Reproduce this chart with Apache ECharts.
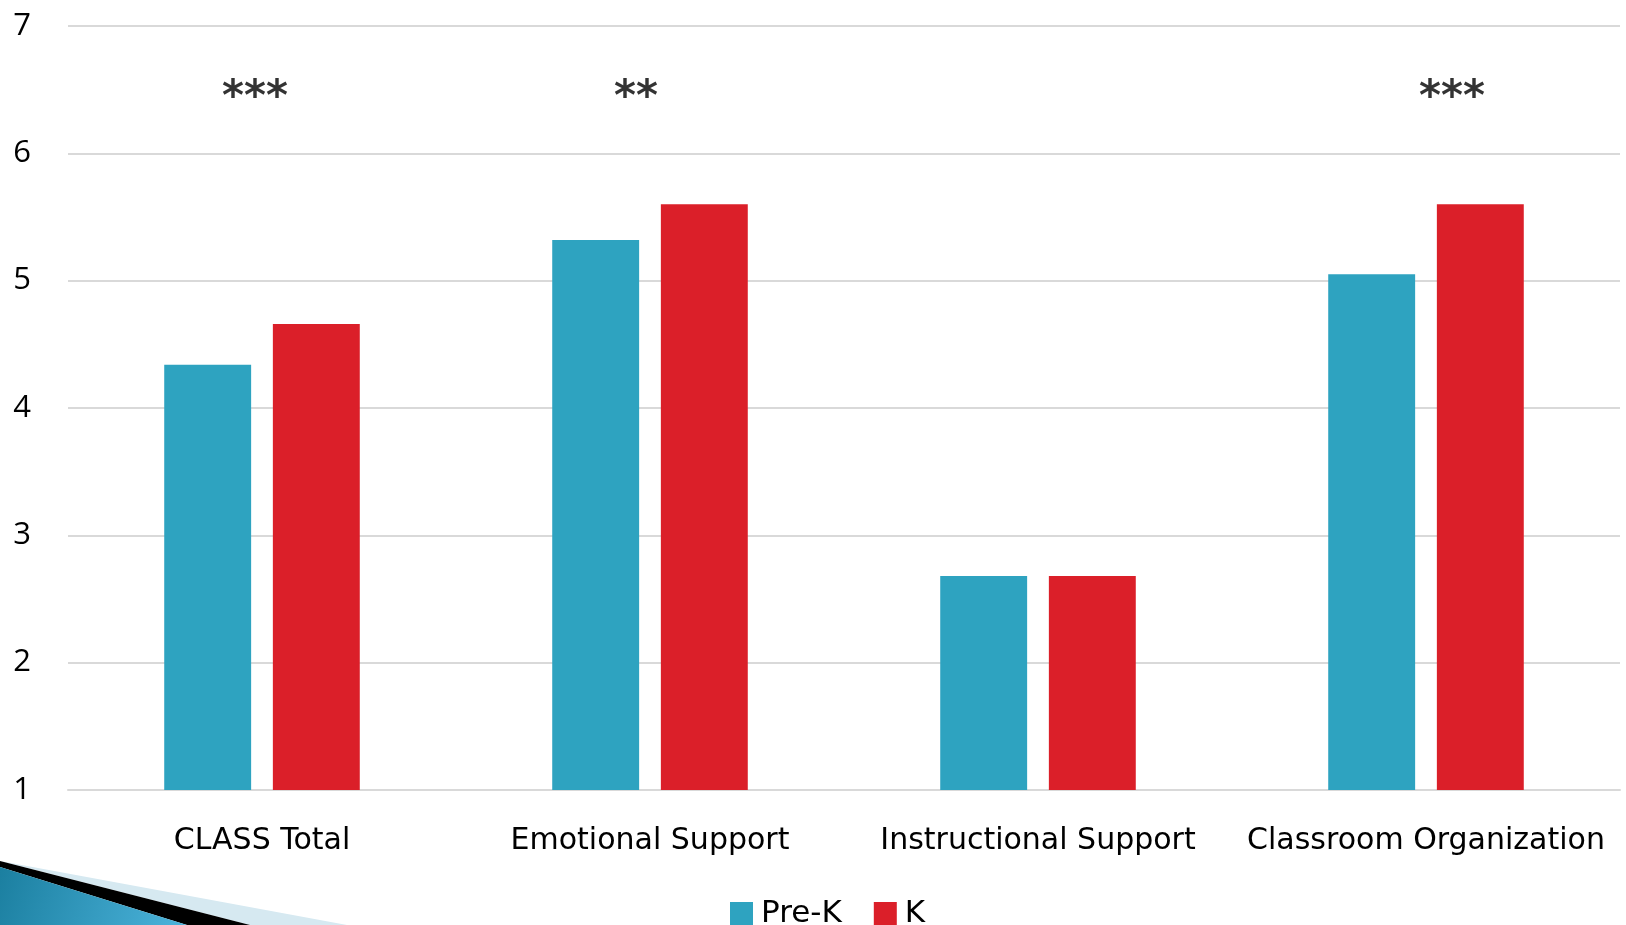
<!DOCTYPE html>
<html>
<head>
<meta charset="utf-8">
<script src="https://cdn.jsdelivr.net/npm/echarts@6/dist/echarts.min.js"></script>
<style>
  html, body { margin: 0; padding: 0; background: #fff; }
  #chart { width: 1626px; height: 925px; }
</style>
</head>
<body>
<div id="chart"></div>
<script>
var categories = ['CLASS Total', 'Emotional Support', 'Instructional Support', 'Classroom Organization'];
var preK = [4.34, 5.32, 2.68, 5.05];
var kinder = [4.66, 5.6, 2.68, 5.6];
var stars = ['***', '**', '', '***'];
var starY = 6.5;
var starShift = [-7, -14, 0, 26];

var chart = echarts.init(document.getElementById('chart'));

var starData = [];
for (var i = 0; i < categories.length; i++) {
    if (stars[i]) {
        starData.push({
            value: [i, starY],
            label: { formatter: stars[i], offset: [starShift[i], 9] }
        });
    }
}

var option = {
    animation: false,
    textStyle: { fontFamily: 'DejaVu Sans', color: '#000' },
    grid: { left: 68, right: 6, top: 26, bottom: 135, containLabel: false },
    legend: {
        left: 725, top: 893,
        itemWidth: 23, itemHeight: 23, itemGap: 32,
        icon: 'rect',
        textStyle: { fontSize: 31, color: '#000', fontFamily: 'DejaVu Sans', padding: [0, 0, 0, 3] },
        data: ['Pre-K', 'K']
    },
    xAxis: {
        type: 'category',
        data: categories,
        axisLine: { lineStyle: { color: '#d9d9d9', width: 2 } },
        axisTick: { show: false },
        axisLabel: { fontSize: 30, color: '#000', margin: 36, interval: 0 }
    },
    yAxis: {
        type: 'value',
        min: 1, max: 7, interval: 1,
        axisLine: { show: false },
        axisTick: { show: false },
        axisLabel: { fontSize: 31, color: '#000', margin: 37, fontFamily: 'Open Sans' },
        splitLine: { lineStyle: { color: '#d9d9d9', width: 2 } }
    },
    series: [
        {
            name: 'Pre-K', type: 'bar', data: preK,
            barWidth: '22.4%', barGap: '25%',
            itemStyle: { color: '#2ea3c0' }
        },
        {
            name: 'K', type: 'bar', data: kinder,
            barWidth: '22.4%', barGap: '25%',
            itemStyle: { color: '#db1f29' }
        },
        {
            name: 'sig', type: 'scatter', data: starData,
            symbolSize: 0, silent: true,
            label: { show: true, position: 'inside', fontSize: 42, fontWeight: 'bold', color: '#000', textBorderWidth: 0 }
        }
    ],
    graphic: [
        { type: 'polygon', shape: { points: [[0, 861], [347, 925], [250, 925]] }, style: { fill: '#d6e9f1' } },
        { type: 'polygon', shape: { points: [[0, 861], [250, 925], [187, 925], [0, 867]] }, style: { fill: '#000' } },
        {
            type: 'polygon', shape: { points: [[0, 867], [187, 925], [0, 925]] },
            style: {
                fill: new echarts.graphic.LinearGradient(0, 0, 1, 1, [
                    { offset: 0, color: '#1b7fa0' },
                    { offset: 1, color: '#4cb4dc' }
                ])
            }
        }
    ]
};

chart.setOption(option);
</script>
</body>
</html>
